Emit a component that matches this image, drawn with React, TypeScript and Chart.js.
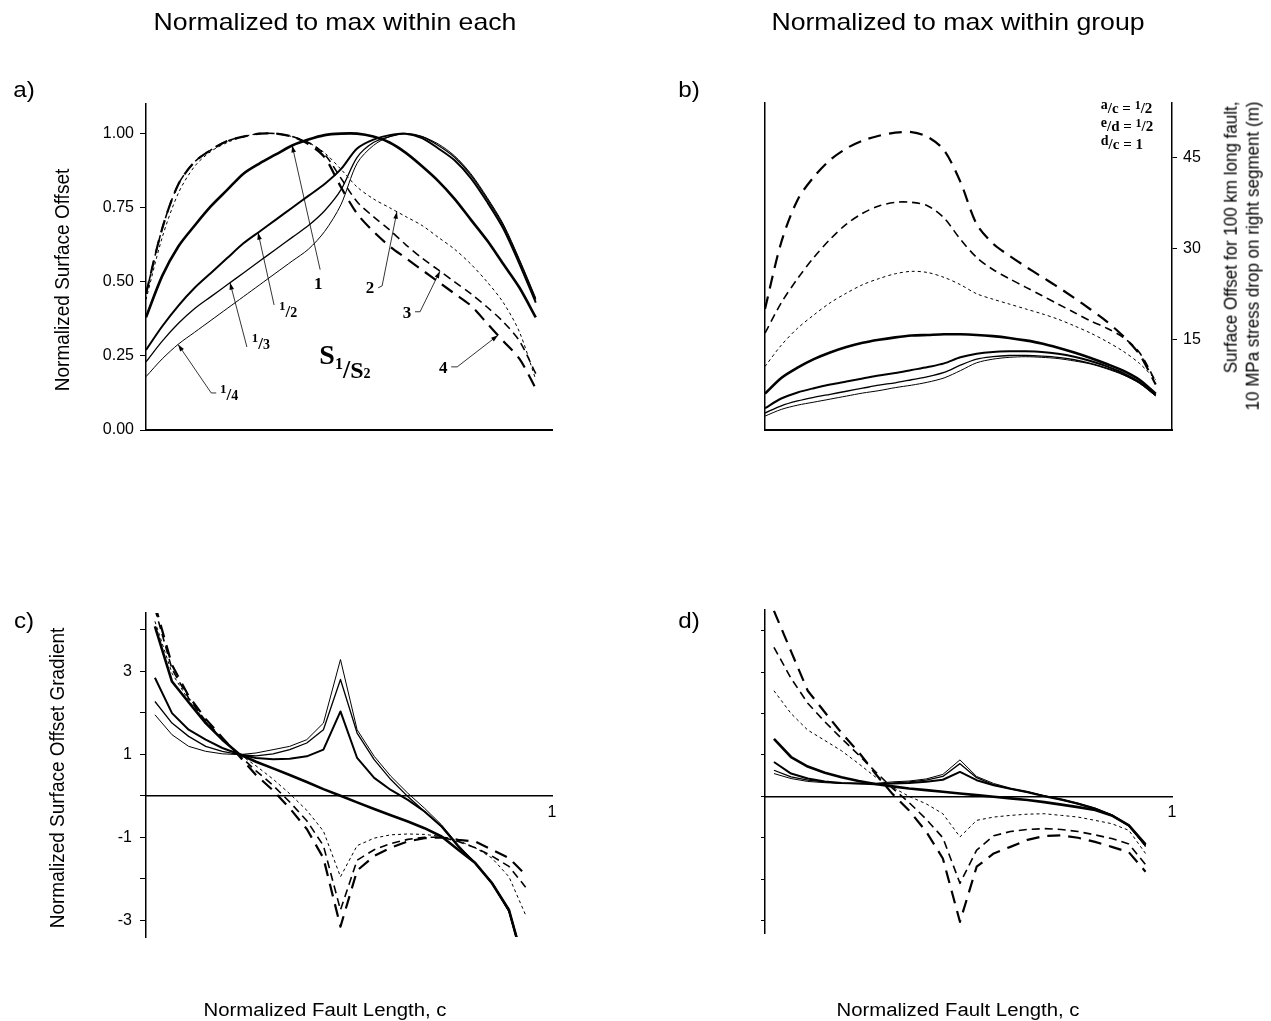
import React, { useEffect, useRef } from 'react';
import { Chart, registerables } from 'chart.js';

Chart.register(...registerables);

const PAGE_W = 1271;
const PAGE_H = 1021;
const SANS = "'Liberation Sans', Arial, Helvetica, sans-serif";
const SERIF = "'Liberation Serif', 'Times New Roman', Times, serif";

// ---------- x positions (normalized fault length) ----------
const xOffset = [0, 0.04, 0.08, 0.12, 0.16, 0.2, 0.24, 0.28, 0.32, 0.36, 0.4, 0.44, 0.48, 0.52, 0.56, 0.6, 0.64, 0.68, 0.72, 0.76, 0.8, 0.84, 0.88, 0.92, 0.96];
const xGradient = [0.022, 0.064, 0.105, 0.147, 0.188, 0.23, 0.271, 0.313, 0.354, 0.396, 0.437, 0.479, 0.52, 0.562, 0.603, 0.645, 0.686, 0.728, 0.769, 0.811, 0.852, 0.894, 0.935];

// ---------- panel a: normalized surface offset ----------
const aRatio1 = [0.38, 0.52, 0.62, 0.69, 0.755, 0.81, 0.865, 0.9, 0.93, 0.96, 0.98, 0.995, 1.0, 1.0, 0.99, 0.97, 0.935, 0.89, 0.84, 0.78, 0.71, 0.64, 0.56, 0.48, 0.38];
const aRatioHalf = [0.27, 0.35, 0.42, 0.48, 0.53, 0.58, 0.63, 0.67, 0.71, 0.75, 0.79, 0.83, 0.88, 0.95, 0.98, 0.995, 1.0, 0.985, 0.95, 0.91, 0.85, 0.77, 0.68, 0.56, 0.43];
const aRatioThird = [0.23, 0.3, 0.36, 0.41, 0.45, 0.49, 0.53, 0.57, 0.61, 0.65, 0.69, 0.74, 0.81, 0.92, 0.97, 0.99, 1.0, 0.99, 0.96, 0.92, 0.86, 0.78, 0.69, 0.57, 0.44];
const aRatioQuarter = [0.18, 0.24, 0.29, 0.33, 0.37, 0.41, 0.45, 0.49, 0.53, 0.57, 0.61, 0.67, 0.76, 0.9, 0.96, 0.99, 1.0, 0.99, 0.965, 0.925, 0.865, 0.785, 0.695, 0.575, 0.445];
const aRatio2 = [0.44, 0.65, 0.8, 0.89, 0.94, 0.97, 0.99, 1.0, 1.0, 0.99, 0.97, 0.935, 0.88, 0.82, 0.78, 0.75, 0.72, 0.69, 0.65, 0.61, 0.56, 0.5, 0.43, 0.33, 0.17];
const aRatio3 = [0.46, 0.68, 0.83, 0.905, 0.945, 0.975, 0.99, 1.0, 1.0, 0.99, 0.97, 0.93, 0.85, 0.77, 0.72, 0.675, 0.625, 0.58, 0.54, 0.5, 0.46, 0.415, 0.365, 0.3, 0.19];
const aRatio4 = [0.46, 0.68, 0.83, 0.905, 0.945, 0.975, 0.99, 1.0, 1.0, 0.99, 0.965, 0.92, 0.82, 0.73, 0.67, 0.62, 0.58, 0.54, 0.5, 0.46, 0.42, 0.36, 0.3, 0.24, 0.14];

// ---------- panel b: surface offset (m) ----------
const bRatio1 = [6, 8.6, 10.3, 11.7, 12.8, 13.7, 14.4, 14.9, 15.3, 15.6, 15.7, 15.8, 15.8, 15.7, 15.5, 15.2, 14.8, 14.3, 13.6, 12.8, 11.9, 10.9, 9.8, 8.3, 6];
const bRatioHalf = [3.6, 5.2, 6.2, 6.9, 7.5, 8.0, 8.5, 9.0, 9.4, 9.9, 10.4, 11.0, 12.0, 12.6, 12.9, 13.0, 13.0, 12.9, 12.6, 12.1, 11.4, 10.5, 9.4, 7.9, 5.8];
const bRatioThird = [2.8, 4.0, 4.8, 5.4, 5.9, 6.4, 6.9, 7.4, 7.8, 8.3, 8.8, 9.5, 10.7, 11.7, 12.1, 12.3, 12.3, 12.2, 12.0, 11.6, 11.0, 10.2, 9.2, 7.8, 5.7];
const bRatioQuarter = [2.3, 3.4, 4.1, 4.6, 5.1, 5.6, 6.1, 6.5, 7.0, 7.4, 7.9, 8.6, 9.8, 11.1, 11.7, 12.0, 12.1, 12.0, 11.8, 11.4, 10.9, 10.1, 9.1, 7.7, 5.6];
const bRatio2 = [10.5, 14, 16.8, 19, 21, 22.6, 24, 25, 25.8, 26.2, 26, 25.2, 24, 22.5, 21.6, 20.8, 20, 19.2, 18.3, 17.2, 16, 14.6, 13, 11, 8.3];
const bRatio3 = [16, 21, 25, 28.5, 31.5, 34, 35.8, 37, 37.6, 37.6, 37, 35, 31.5, 28.5, 26.5, 25, 23.6, 22.2, 20.8, 19.4, 18, 16.8, 15.3, 12.8, 8];
const bRatio4 = [20, 31, 38, 41.8, 44.6, 46.5, 47.8, 48.6, 49.1, 49.2, 48.4, 46.2, 41, 34, 30.8, 28.8, 27, 25.3, 23.6, 21.8, 19.9, 17.9, 15.5, 12.5, 7.5];

// ---------- panel c: normalized surface offset gradient ----------
const cRatio1 = [4.08, 2.75, 2.25, 1.75, 1.35, 1.0, 0.82, 0.66, 0.5, 0.33, 0.16, 0, -0.16, -0.32, -0.47, -0.62, -0.78, -0.98, -1.3, -1.62, -2.1, -2.75, -4.2];
const cRatioHalf = [2.84, 1.99, 1.59, 1.35, 1.15, 1.0, 0.91, 0.88, 0.89, 0.95, 1.11, 2.03, 0.91, 0.43, 0.14, -0.1, -0.38, -0.74, -1.22, -1.62, -2.1, -2.75, -4.2];
const cRatioThird = [2.27, 1.75, 1.43, 1.19, 1.07, 0.99, 0.96, 1.01, 1.11, 1.27, 1.59, 2.8, 1.51, 0.87, 0.39, -0.02, -0.38, -0.74, -1.22, -1.62, -2.1, -2.79, -4.2];
const cRatioQuarter = [1.95, 1.47, 1.19, 1.07, 1.01, 0.99, 1.03, 1.11, 1.19, 1.35, 1.75, 3.28, 1.59, 0.95, 0.47, 0.06, -0.3, -0.7, -1.18, -1.62, -2.1, -2.79, -4.2];
const cRatio2 = [4.2, 2.95, 2.3, 1.78, 1.38, 1.0, 0.72, 0.4, 0.05, -0.35, -0.85, -1.95, -1.2, -1.02, -0.94, -0.92, -0.93, -0.98, -1.08, -1.25, -1.5, -1.95, -2.87];
const cRatio3 = [4.5, 3.05, 2.35, 1.8, 1.38, 0.97, 0.6, 0.25, -0.15, -0.6, -1.2, -2.75, -1.55, -1.3, -1.15, -1.05, -1.0, -1.0, -1.1, -1.25, -1.45, -1.7, -2.2];
const cRatio4 = [4.6, 3.15, 2.4, 1.85, 1.4, 0.95, 0.5, 0.13, -0.3, -0.8, -1.5, -3.15, -1.8, -1.45, -1.25, -1.1, -1.02, -1.0, -1.06, -1.1, -1.3, -1.5, -1.9];

// ---------- panel d: gradient normalized within group ----------
const dRatio1 = [1.39, 0.95, 0.72, 0.57, 0.46, 0.37, 0.3, 0.24, 0.19, 0.15, 0.11, 0.07, 0.03, -0.01, -0.05, -0.09, -0.14, -0.2, -0.26, -0.33, -0.46, -0.7, -1.16];
const dRatioHalf = [0.83, 0.55, 0.43, 0.36, 0.32, 0.31, 0.29, 0.31, 0.32, 0.35, 0.4, 0.59, 0.39, 0.27, 0.18, 0.1, 0.0, -0.08, -0.18, -0.3, -0.46, -0.7, -1.18];
const dRatioThird = [0.63, 0.47, 0.39, 0.35, 0.32, 0.31, 0.31, 0.32, 0.35, 0.39, 0.48, 0.79, 0.45, 0.28, 0.18, 0.1, 0.01, -0.08, -0.18, -0.3, -0.46, -0.71, -1.2];
const dRatioQuarter = [0.55, 0.43, 0.36, 0.33, 0.31, 0.31, 0.31, 0.35, 0.37, 0.42, 0.53, 0.88, 0.48, 0.31, 0.2, 0.12, 0.02, -0.06, -0.16, -0.28, -0.44, -0.7, -1.22];
const dRatio2 = [2.55, 2.0, 1.6, 1.35, 1.1, 0.79, 0.47, 0.22, 0.0, -0.18, -0.42, -0.98, -0.58, -0.5, -0.46, -0.43, -0.42, -0.46, -0.5, -0.58, -0.66, -0.82, -1.38];
const dRatio3 = [3.6, 2.85, 2.25, 1.8, 1.4, 1.0, 0.6, 0.2, -0.15, -0.55, -1.0, -2.1, -1.3, -0.95, -0.85, -0.8, -0.78, -0.8, -0.85, -0.93, -1.02, -1.15, -1.65];
const dRatio4 = [4.48, 3.5, 2.55, 2.03, 1.53, 1.07, 0.55, 0.06, -0.34, -0.85, -1.5, -3.03, -1.7, -1.38, -1.22, -1.05, -0.96, -0.94, -1.0, -1.1, -1.22, -1.35, -1.82];

// ---------- ticks ----------
const aYTicks = [0, 0.25, 0.5, 0.75, 1];
const bYTicks = [15, 30, 45];
const cdYTicks = [-3, -2, -1, 0, 1, 2, 3, 4];
const cYLabels = [-3, -1, 1, 3];
const cdXTicks = [1];

type Key = 'r1' | 'rHalf' | 'rThird' | 'rQuarter' | 'r2' | 'r3' | 'r4';
const drawOrder: Key[] = ['r2', 'r3', 'r4', 'rQuarter', 'rThird', 'rHalf', 'r1'];

const lineStyles: Record<Key, { width: number; dash: number[] }> = {
  r1: { width: 2.6, dash: [] },
  rHalf: { width: 2.0, dash: [] },
  rThird: { width: 1.3, dash: [] },
  rQuarter: { width: 1.0, dash: [] },
  r2: { width: 1.0, dash: [3, 3] },
  r3: { width: 1.6, dash: [8, 5] },
  r4: { width: 2.2, dash: [13, 8] },
};

const seriesA: Record<Key, number[]> = { r1: aRatio1, rHalf: aRatioHalf, rThird: aRatioThird, rQuarter: aRatioQuarter, r2: aRatio2, r3: aRatio3, r4: aRatio4 };
const seriesB: Record<Key, number[]> = { r1: bRatio1, rHalf: bRatioHalf, rThird: bRatioThird, rQuarter: bRatioQuarter, r2: bRatio2, r3: bRatio3, r4: bRatio4 };
const seriesC: Record<Key, number[]> = { r1: cRatio1, rHalf: cRatioHalf, rThird: cRatioThird, rQuarter: cRatioQuarter, r2: cRatio2, r3: cRatio3, r4: cRatio4 };
const seriesD: Record<Key, number[]> = { r1: dRatio1, rHalf: dRatioHalf, rThird: dRatioThird, rQuarter: dRatioQuarter, r2: dRatio2, r3: dRatio3, r4: dRatio4 };

// ---------- annotation helpers ----------
type Part = { t: string; size: number; dy: number };

function frac(n: string, d: string, s: number): Part[] {
  return [
    { t: n, size: Math.round(s * 0.75), dy: 0 },
    { t: '/', size: s, dy: Math.round(s * 0.43) },
    { t: d, size: Math.round(s * 0.8), dy: Math.round(s * 0.43) },
  ];
}

function drawParts(ctx: CanvasRenderingContext2D, x: number, y: number, parts: Part[], align: 'center' | 'left') {
  ctx.save();
  ctx.fillStyle = '#000';
  ctx.textBaseline = 'alphabetic';
  ctx.textAlign = 'left';
  const widths = parts.map((p) => {
    ctx.font = `bold ${p.size}px ${SERIF}`;
    return ctx.measureText(p.t).width;
  });
  const total = widths.reduce((a, b) => a + b, 0);
  let cx = align === 'center' ? x - total / 2 : x;
  parts.forEach((p, i) => {
    ctx.font = `bold ${p.size}px ${SERIF}`;
    ctx.fillText(p.t, cx, y + p.dy);
    cx += widths[i];
  });
  ctx.restore();
}

function interp(xs: number[], ys: number[], x: number) {
  for (let i = 0; i < xs.length - 1; i++) {
    if (x >= xs[i] && x <= xs[i + 1]) {
      const f = (x - xs[i]) / (xs[i + 1] - xs[i]);
      return ys[i] + f * (ys[i + 1] - ys[i]);
    }
  }
  return ys[ys.length - 1];
}

const aNotes: { parts: Part[]; at: [number, number]; lead: [number, number]; elbow: [number, number]; key: Key; tipX: number }[] = [
  { parts: [{ t: '1', size: 17, dy: 6 }], at: [0.424, 0.497], lead: [2, -13], elbow: [0, 0], key: 'r1', tipX: 0.36 },
  { parts: frac('1', '2', 17), at: [0.35, 0.405], lead: [-14, -5], elbow: [0, 0], key: 'rHalf', tipX: 0.276 },
  { parts: frac('1', '3', 17), at: [0.283, 0.297], lead: [-14, 5], elbow: [0, 0], key: 'rThird', tipX: 0.207 },
  { parts: frac('1', '4', 17), at: [0.205, 0.125], lead: [-13, 0], elbow: [-5, 0], key: 'rQuarter', tipX: 0.079 },
  { parts: [{ t: '2', size: 17, dy: 6 }], at: [0.552, 0.483], lead: [8, 1], elbow: [4, -2], key: 'r2', tipX: 0.618 },
  { parts: [{ t: '3', size: 17, dy: 6 }], at: [0.643, 0.399], lead: [8, 0], elbow: [5, 0], key: 'r3', tipX: 0.724 },
  { parts: [{ t: '4', size: 17, dy: 6 }], at: [0.732, 0.213], lead: [8, 0], elbow: [6, 0], key: 'r4', tipX: 0.867 },
];

const sRatioLabel: { parts: Part[]; at: [number, number] } = {
  parts: [
    { t: 'S', size: 28, dy: 2 },
    { t: '1', size: 16, dy: 7 },
    { t: '/', size: 26, dy: 16 },
    { t: 'S', size: 24, dy: 16 },
    { t: '2', size: 14, dy: 16 },
  ],
  at: [0.49, 0.23],
};

const bLegend: { parts: Part[]; at: [number, number] }[] = [
  { parts: [{ t: 'a', size: 14, dy: -4 }, { t: '/c', size: 15, dy: 0 }, { t: ' = ', size: 15, dy: 0 }, { t: '1', size: 12, dy: -4 }, { t: '/2', size: 15, dy: 0 }], at: [0.825, 52.3] },
  { parts: [{ t: 'e', size: 14, dy: -4 }, { t: '/d', size: 15, dy: 0 }, { t: ' = ', size: 15, dy: 0 }, { t: '1', size: 12, dy: -4 }, { t: '/2', size: 15, dy: 0 }], at: [0.825, 49.3] },
  { parts: [{ t: 'd', size: 14, dy: -4 }, { t: '/c', size: 15, dy: 0 }, { t: ' = 1', size: 15, dy: 0 }], at: [0.825, 46.4] },
];

const panelANotesPlugin = {
  id: 'panelANotes',
  afterDatasetsDraw(chart: any) {
    const { ctx } = chart;
    const xs = chart.scales.x;
    const ys = chart.scales.y;
    ctx.save();
    ctx.strokeStyle = '#000';
    ctx.fillStyle = '#000';
    ctx.lineWidth = 0.8;
    ctx.setLineDash([]);
    aNotes.forEach((n) => {
      const lx = xs.getPixelForValue(n.at[0]);
      const ly = ys.getPixelForValue(n.at[1]);
      drawParts(ctx, lx, ly, n.parts, 'center');
      const sx = lx + n.lead[0];
      const sy = ly + n.lead[1];
      const ex = sx + n.elbow[0];
      const ey = sy + n.elbow[1];
      const tx = xs.getPixelForValue(n.tipX);
      const ty = ys.getPixelForValue(interp(xOffset, seriesA[n.key], n.tipX));
      ctx.beginPath();
      ctx.moveTo(sx, sy);
      ctx.lineTo(ex, ey);
      ctx.lineTo(tx, ty);
      ctx.stroke();
      const ang = Math.atan2(ty - ey, tx - ex);
      const L = 7;
      const Wd = 2.3;
      ctx.beginPath();
      ctx.moveTo(tx, ty);
      ctx.lineTo(tx - L * Math.cos(ang) + Wd * Math.sin(ang), ty - L * Math.sin(ang) - Wd * Math.cos(ang));
      ctx.lineTo(tx - L * Math.cos(ang) - Wd * Math.sin(ang), ty - L * Math.sin(ang) + Wd * Math.cos(ang));
      ctx.closePath();
      ctx.fill();
    });
    drawParts(ctx, xs.getPixelForValue(sRatioLabel.at[0]), ys.getPixelForValue(sRatioLabel.at[1]), sRatioLabel.parts, 'center');
    ctx.restore();
  },
};

const panelBLegendPlugin = {
  id: 'panelBLegend',
  afterDatasetsDraw(chart: any) {
    const { ctx } = chart;
    const xs = chart.scales.x;
    const ys = chart.scales.y;
    bLegend.forEach((l) => {
      drawParts(ctx, xs.getPixelForValue(l.at[0]), ys.getPixelForValue(l.at[1]), l.parts, 'left');
    });
  },
};

// ---------- chart config ----------
type Area = { l: number; t: number; r: number; b: number };

function makeDatasets(xs: number[], series: Record<Key, number[]>, tension: number) {
  return drawOrder.map((k) => ({
    label: k,
    data: xs.map((x, i) => ({ x, y: series[k][i] })),
    borderColor: '#000',
    backgroundColor: '#000',
    borderWidth: lineStyles[k].width,
    borderDash: lineStyles[k].dash,
    pointRadius: 0,
    pointHoverRadius: 0,
    fill: false,
    tension,
    borderCapStyle: 'butt',
    borderJoinStyle: 'round',
    yAxisID: 'y',
  }));
}

function baseOptions(area: Area, padRight: number) {
  return {
    responsive: false,
    maintainAspectRatio: false,
    animation: false,
    devicePixelRatio: 1,
    events: [],
    layout: { padding: { left: 0, top: area.t, right: padRight, bottom: PAGE_H - area.b } },
    plugins: { legend: { display: false }, tooltip: { enabled: false }, title: { display: false } },
  };
}

const tickFont = { family: SANS, size: 16 };

function offsetPanelConfig(which: 'a' | 'b') {
  const area: Area = which === 'a' ? { l: 146, t: 104, r: 552, b: 430 } : { l: 765, t: 103, r: 1172, b: 430 };
  const scales: any = {
    x: {
      type: 'linear', min: 0, max: 1, position: 'bottom', bounds: 'data',
      border: { display: true, color: '#000', width: 2 },
      grid: { display: false, drawTicks: false },
      ticks: { display: false },
      afterFit: (s: any) => { s.height = 0; },
    },
  };
  if (which === 'a') {
    scales.y = {
      type: 'linear', min: 0, max: 1.1, position: 'left', bounds: 'data',
      border: { display: true, color: '#000', width: 1.5 },
      grid: { display: true, drawOnChartArea: false, drawTicks: true, tickLength: 6, color: '#000', lineWidth: 1 },
      ticks: { display: true, color: '#000', font: tickFont, padding: 6, callback: (v: any) => Number(v).toFixed(2) },
      afterBuildTicks: (s: any) => { s.ticks = aYTicks.map((v) => ({ value: v })); },
      afterFit: (s: any) => { s.width = area.l; },
    };
  } else {
    scales.y = {
      type: 'linear', min: 0, max: 54, position: 'left', bounds: 'data',
      border: { display: true, color: '#000', width: 1.5 },
      grid: { display: false, drawTicks: false },
      ticks: { display: false },
      afterFit: (s: any) => { s.width = area.l; },
    };
    scales.yR = {
      type: 'linear', min: 0, max: 54, position: 'right', bounds: 'data',
      border: { display: true, color: '#000', width: 1.5 },
      grid: { display: true, drawOnChartArea: false, drawTicks: true, tickLength: 5, color: '#000', lineWidth: 1 },
      ticks: { display: true, color: '#000', font: tickFont, padding: 6, callback: (v: any) => String(v) },
      afterBuildTicks: (s: any) => { s.ticks = bYTicks.map((v) => ({ value: v })); },
      afterFit: (s: any) => { s.width = PAGE_W - area.r; },
    };
  }
  return {
    type: 'line',
    data: { datasets: makeDatasets(xOffset, which === 'a' ? seriesA : seriesB, 0.3) },
    options: { ...baseOptions(area, which === 'a' ? PAGE_W - area.r : 0), scales },
    plugins: [which === 'a' ? panelANotesPlugin : panelBLegendPlugin],
  };
}

function gradientPanelConfig(which: 'c' | 'd') {
  const area: Area = which === 'c' ? { l: 146, t: 613, r: 552, b: 937 } : { l: 765, t: 610, r: 1172, b: 933 };
  const yMin = which === 'c' ? -3.4 : -3.3;
  const yMax = which === 'c' ? 4.4 : 4.5;
  const scales: any = {
    x: {
      type: 'linear', min: 0, max: 1, position: { y: 0 }, bounds: 'data',
      border: { display: true, color: '#000', width: 1.5 },
      grid: { display: false, drawTicks: false },
      ticks: { display: true, color: '#000', font: tickFont, padding: 7, maxRotation: 0, autoSkip: false, callback: (v: any) => String(v) },
      afterBuildTicks: (s: any) => { s.ticks = cdXTicks.map((v) => ({ value: v })); },
    },
    y: {
      type: 'linear', min: yMin, max: yMax, position: 'left', bounds: 'data',
      border: { display: true, color: '#000', width: 1.5 },
      grid: { display: true, drawOnChartArea: false, drawTicks: true, tickLength: which === 'c' ? 6 : 4, color: '#000', lineWidth: 1 },
      ticks: {
        display: which === 'c', color: '#000', font: tickFont, padding: 8,
        callback: (v: any) => (cYLabels.includes(Number(v)) ? String(v) : ''),
      },
      afterBuildTicks: (s: any) => { s.ticks = cdYTicks.map((v) => ({ value: v })); },
      afterFit: (s: any) => { s.width = area.l; },
    },
  };
  return {
    type: 'line',
    data: { datasets: makeDatasets(xGradient, which === 'c' ? seriesC : seriesD, 0) },
    options: { ...baseOptions(area, PAGE_W - area.r), scales },
  };
}

// ---------- page text ----------
function PageText(props: { x: number; y: number; size: number; text: string; rotate?: boolean; stretch?: number; align?: 'center' | 'right'; lineHeight?: number }) {
  const { x, y, size, text, rotate = false, stretch = 1, align = 'center', lineHeight = 1.2 } = props;
  const transform = rotate
    ? `translate(-50%, -50%) rotate(-90deg) scaleY(${stretch})`
    : `translate(-50%, -50%) scaleX(${stretch})`;
  return (
    <div
      style={{
        position: 'absolute', left: x, top: y, transform, fontSize: size, fontFamily: SANS,
        whiteSpace: 'pre', lineHeight, textAlign: align, color: '#000',
      }}
    >
      {text}
    </div>
  );
}

export default function App() {
  const refA = useRef<HTMLCanvasElement>(null);
  const refB = useRef<HTMLCanvasElement>(null);
  const refC = useRef<HTMLCanvasElement>(null);
  const refD = useRef<HTMLCanvasElement>(null);

  useEffect(() => {
    const charts = [
      new Chart(refA.current as HTMLCanvasElement, offsetPanelConfig('a') as any),
      new Chart(refB.current as HTMLCanvasElement, offsetPanelConfig('b') as any),
      new Chart(refC.current as HTMLCanvasElement, gradientPanelConfig('c') as any),
      new Chart(refD.current as HTMLCanvasElement, gradientPanelConfig('d') as any),
    ];
    return () => charts.forEach((c) => c.destroy());
  }, []);

  const canvasStyle: React.CSSProperties = { position: 'absolute', left: 0, top: 0, width: PAGE_W, height: PAGE_H };

  return (
    <div style={{ position: 'absolute', left: 0, top: 0, width: PAGE_W, height: PAGE_H, background: '#fff', overflow: 'hidden' }}>
      <canvas ref={refA} width={PAGE_W} height={PAGE_H} style={canvasStyle} />
      <canvas ref={refB} width={PAGE_W} height={PAGE_H} style={canvasStyle} />
      <canvas ref={refC} width={PAGE_W} height={PAGE_H} style={canvasStyle} />
      <canvas ref={refD} width={PAGE_W} height={PAGE_H} style={canvasStyle} />

      <PageText x={335} y={22} size={24} stretch={1.11} text="Normalized to max within each" />
      <PageText x={958} y={22} size={24} stretch={1.11} text="Normalized to max within group" />

      <PageText x={24} y={90} size={22} stretch={1.1} text="a)" />
      <PageText x={689} y={90} size={22} stretch={1.1} text="b)" />
      <PageText x={24} y={621} size={22} stretch={1.1} text="c)" />
      <PageText x={689} y={621} size={22} stretch={1.1} text="d)" />

      <PageText x={63} y={280} size={19} rotate stretch={1.1} text="Normalized Surface Offset" />
      <PageText x={58} y={778} size={19} rotate stretch={1.1} text="Normalized Surface Offset Gradient" />
      <PageText
        x={1242}
        y={256}
        size={17}
        rotate
        align="right"
        lineHeight={1.25}
        stretch={1.05}
        text={'Surface Offset for 100 km long fault,\n10 MPa stress drop on right segment (m)'}
      />

      <PageText x={325} y={1011} size={18} stretch={1.13} text="Normalized Fault Length, c" />
      <PageText x={958} y={1011} size={18} stretch={1.13} text="Normalized Fault Length, c" />
    </div>
  );
}
